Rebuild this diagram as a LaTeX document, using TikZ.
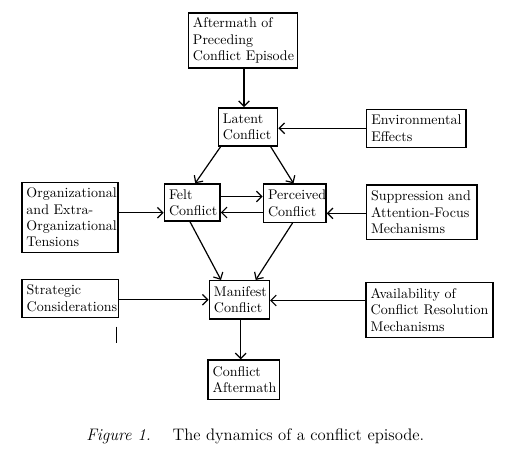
\documentclass[tikz,border=0pt]{standalone}
\usetikzlibrary{arrows.meta,calc}
\begin{document}
\begin{tikzpicture}[x=0.75pt,y=-0.75pt,
  bx/.style={draw, line width=1.1pt, inner xsep=3.5pt, inner ysep=0pt, align=left,
    font={\fontsize{10.5}{12.2}\selectfont\hyphenpenalty=10000\exhyphenpenalty=10000\fontdimen2\font=5.2pt\relax}},
  arr/.style={line width=0.9pt, -{Straight Barb[length=4pt,width=8pt,line width=0.9pt]}},
  stray/.style={line width=0.7pt}]
\useasboundingbox (0,0) rectangle (512,457);
% boxes
\node[bx, minimum width=81.75pt, minimum height=41.25pt, text width=74.75pt] (aft) at (242.8,40.5) {Aftermath of\\Preceding\\\mbox{Conflict Episode}};
\node[bx, minimum width=44.55pt, minimum height=28.7pt, text width=37.5pt] (lat) at (248,126.9) {Latent\\Conflict};
\node[bx, minimum width=74.5pt, minimum height=28.5pt, text width=67.5pt] (env) at (416.3,128.3) {Environmental\\Effects};
\node[bx, minimum width=41.8pt, minimum height=27.75pt, text width=34.8pt] (felt) at (192.2,202.5) {Felt\\Conflict};
\node[bx, minimum width=47pt, minimum height=28.7pt, text width=40pt] (perc) at (294.7,203.2) {Perceived\\Conflict};
\node[bx, minimum width=72pt, minimum height=52.3pt, text width=65pt] (org) at (69.8,217.5) {Organizational\\\mbox{and Extra-}\\Organizational\\Tensions};
\node[bx, minimum width=83pt, minimum height=40.7pt, text width=76pt] (sup) at (421.7,212.2) {\mbox{Suppression and}\\Attention-Focus\\Mechanisms};
\node[bx, minimum width=72.4pt, minimum height=28.5pt, text width=65.4pt] (str) at (70.3,298.3) {Strategic\\Considerations};
\node[bx, minimum width=45pt, minimum height=28.7pt, text width=38pt] (man) at (239.3,299.8) {Manifest\\Conflict};
\node[bx, minimum width=95.25pt, minimum height=41.25pt, text width=88.25pt] (ava) at (429.5,309.8) {\mbox{Availability of}\\\mbox{Conflict Resolution}\\Mechanisms};
\node[bx, minimum width=53.5pt, minimum height=29.5pt, text width=46.5pt] (cam) at (243.7,379.7) {Conflict\\Aftermath};
% arrows
\draw[arr] ($(aft.south)+(1.2,0)$) -- ($(aft.south |- lat.north)+(1.2,0)$);
\draw[arr] (env.west) -- (env.west -| lat.east);
\draw[arr] ($(lat.south west)+(3,0)$) -- ($(felt.north)+(3,0)$);
\draw[arr] ($(lat.south east)+(-7.7,0)$) -- ($(perc.north)+(-1.2,0)$);
\draw[arr] ($(felt.east)+(0,-6)$) -- ($(felt.east -| perc.west)+(0,-6)$);
\draw[arr] ($(perc.west)+(0,9.3)$) -- ($(perc.west -| felt.east)+(0,9.3)$);
\draw[arr] ($(org.east |- felt.east)+(0,10.2)$) -- ($(felt.west)+(0,10.2)$);
\draw[arr] ($(sup.west |- perc.east)+(0,10.1)$) -- ($(perc.east)+(0,10.1)$);
\draw[arr] ($(felt.south)+(-2.2,0)$) -- ($(man.north west)+(12.4,0)$);
\draw[arr] ($(perc.south)+(-2.2,0)$) -- ($(man.north east)+(-14.3,0)$);
\draw[arr] (str.east |- man.west) -- (man.west);
\draw[arr] ($(ava.west |- man.east)+(0,0.7)$) -- ($(man.east)+(0,0.7)$);
\draw[arr] ($(man.south)+(1.4,0)$) -- ($(man.south |- cam.north)+(1.4,0)$);
% stray mark
\coordinate (s1) at (116.3,326.7);
\coordinate (s2) at (116.3,342.7);
\draw[stray] (s1) -- (s2);
% caption
\node[anchor=west, inner sep=0pt, font=\fontsize{12.5}{15}\selectfont] (cap) at (86,436.7) {\textit{Figure 1.}\hspace{1.3em}The dynamics of a conflict episode.};
\end{tikzpicture}
\end{document}
